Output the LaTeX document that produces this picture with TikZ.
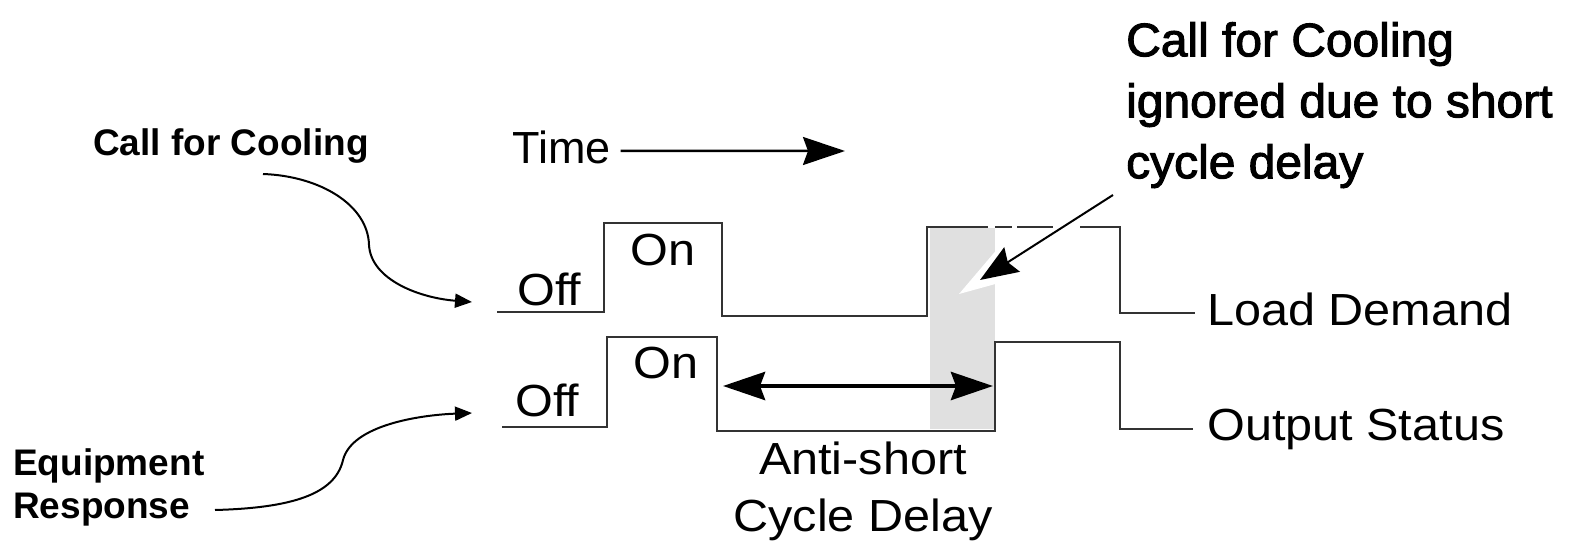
\documentclass[tikz,border=0pt]{standalone}
\usepackage{fontspec}
\setmainfont{Liberation Sans}[FakeStretch=1.08]
\newfontfamily\plainfont{Liberation Sans}
\newfontfamily\notefont{Liberation Sans}[FakeBold=2.2,FakeStretch=1.02]
\usetikzlibrary{arrows.meta}

\tikzset{
  trace/.style={draw=black!80, line width=2.6pt},
  lbl/.style={inner sep=0pt, anchor=base west, font=\fontsize{45}{57}\selectfont},
  boldlbl/.style={inner sep=0pt, anchor=base west, font=\plainfont\fontsize{37}{43}\selectfont\bfseries},
  pointer/.style={line width=2pt, -{Triangle[length=17pt,width=14pt]}},
  bighead/.tip={Stealth[length=42pt,width=28pt,inset=5pt]},
}

\begin{document}
\begin{tikzpicture}[x=1pt,y=-1pt]
\useasboundingbox (0,0) rectangle (1569,546);
% delay window
\fill[black!12] (930,228) rectangle (995,429);
\fill[white] (959,294) -- (999,247) -- (999,283) -- cycle;

% load demand
\draw[trace] (497,312) -- (604,312) -- (604,223) -- (722,223) -- (722,316) -- (927,316) -- (927,227) -- (988,227);
\draw[trace] (995,227) -- (1012,227) (1017,227) -- (1053,227);
\draw[trace] (1080,227) -- (1120,227) -- (1120,313) -- (1195,313);
% output status
\draw[trace] (502,427) -- (607,427) -- (607,337) -- (717,337) -- (717,431) -- (995,431) -- (995,342) -- (1120,342) -- (1120,429) -- (1193,429);

\node[lbl, font=\plainfont\fontsize{45}{57}\selectfont] (time) at (512,163) {Time};
\node[lbl] (off1) at (517,305) {Off};
\node[lbl] (on1) at (630,265) {On};
\node[lbl] (off2) at (515,416) {Off};
\node[lbl] (on2) at (633,378) {On};
\node[lbl] (load) at (1207,325) {Load Demand};
\node[lbl] (out) at (1207,440) {Output Status};
\node[lbl, anchor=north, align=center] (asc) at (863,442) {Anti-short\\Cycle Delay};
\node[font=\notefont\fontsize{47}{61}\selectfont, inner sep=0pt, anchor=north west, align=left] (ign) at (1126,22) {Call for Cooling\\ignored due to short\\cycle delay};
\node[boldlbl] (cfc) at (93,155) {Call for Cooling};
\node[boldlbl] (equip) at (13,475) {Equipment};
\node[boldlbl] (resp) at (13,518) {Response};

\coordinate (cfcstart) at (263,174);
\coordinate (cfcend) at (472,302);
\coordinate (respstart) at (215,510);
\coordinate (respend) at (472,413);
\coordinate (ignstart) at (1113,195);
\coordinate (igntip) at (980,280);
\coordinate (fall) at (717,386);
\coordinate (rise) at (995,386);

% time arrow
\draw[line width=2.5pt, -{bighead}] ([shift={(10,4)}]time.east) -- (845,151);
% delay
\draw[line width=4.5pt, {bighead}-{bighead}] ([xshift=6pt]fall) -- ([xshift=-2pt]rise);
\draw[line width=2pt, -{Stealth[length=38pt,width=29pt,inset=5pt]}] (ignstart) -- (igntip);
% side labels
\draw[pointer] (cfcstart) .. controls (320,176) and (368,205) .. (369,245)
  .. controls (371,280) and (420,298) .. (cfcend);
\draw[pointer] (respstart) .. controls (290,508) and (335,495) .. (343,460)
  .. controls (352,425) and (420,415) .. (respend);
\end{tikzpicture}
\end{document}
